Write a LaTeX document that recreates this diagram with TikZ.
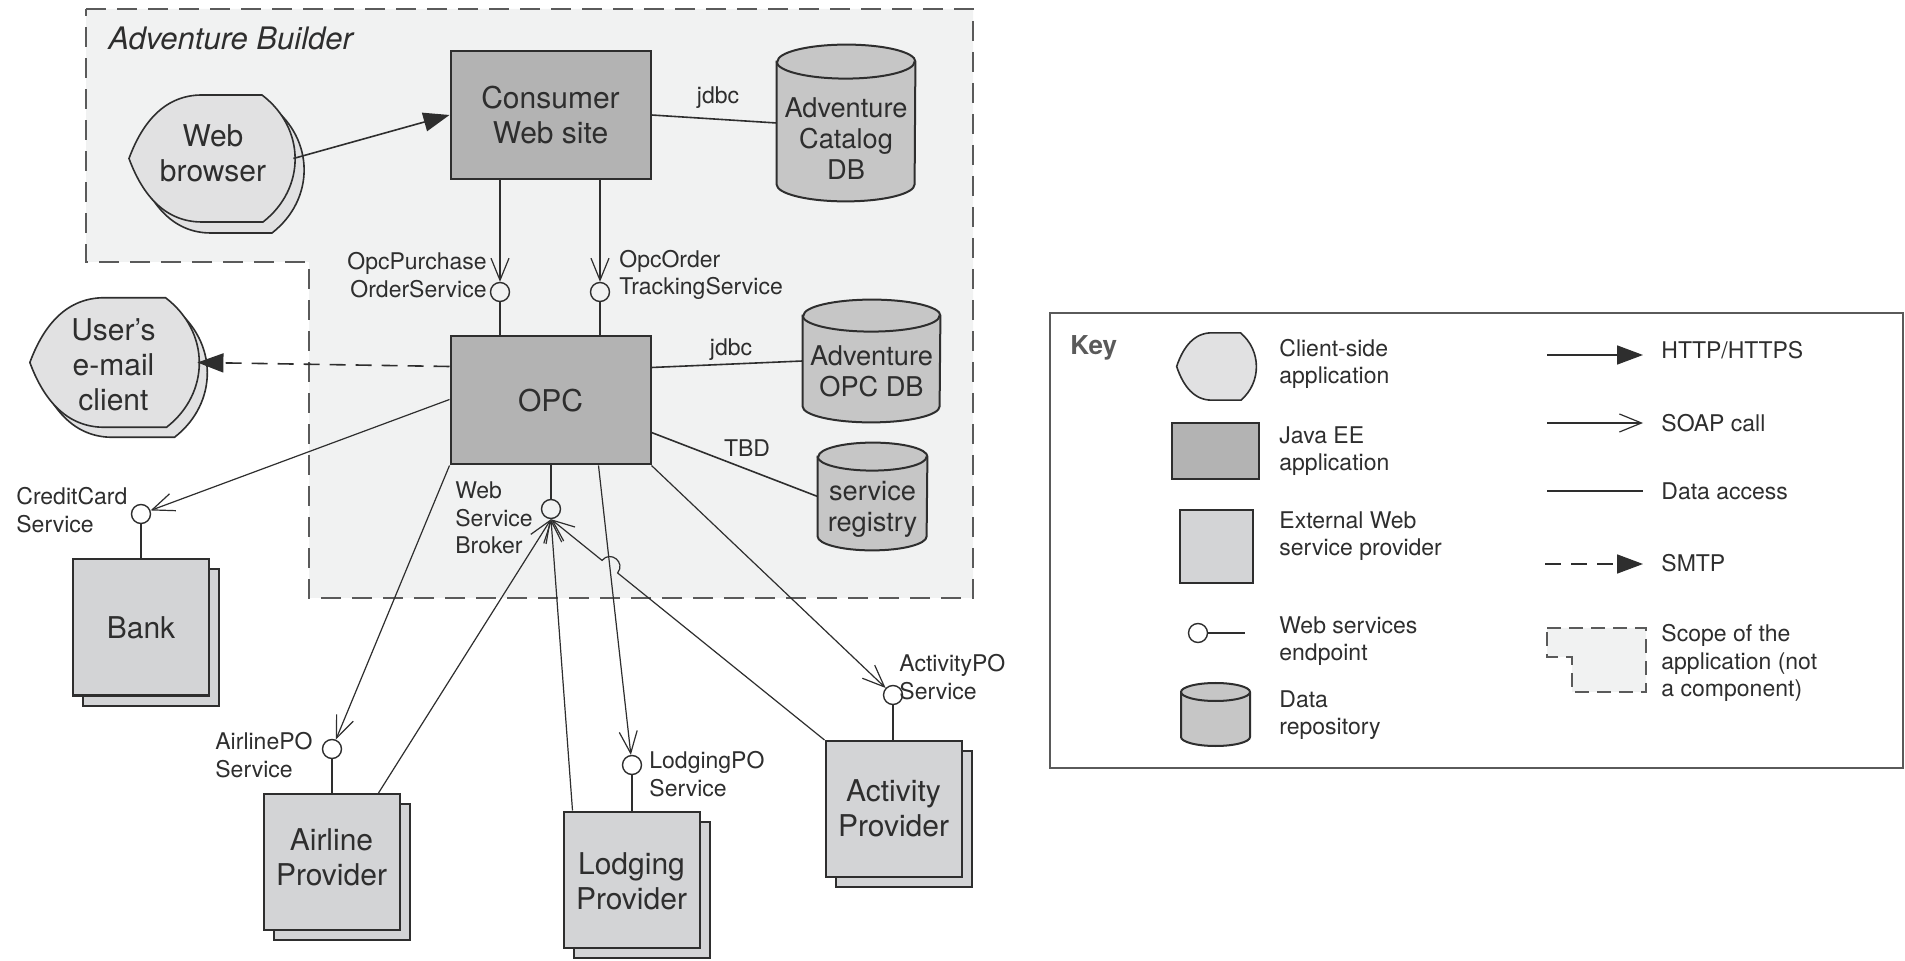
\documentclass[tikz,border=0pt]{standalone}
\usepackage{fontspec}
\setmainfont{TeX Gyre Heros}
\usetikzlibrary{arrows.meta,calc,shadows,intersections}

\definecolor{javafill}{HTML}{B3B3B3}
\definecolor{extfill}{HTML}{D3D4D6}
\definecolor{dbfill}{HTML}{C6C6C6}
\definecolor{clientfill}{HTML}{E1E1E2}
\definecolor{scopefill}{HTML}{F1F2F2}
\definecolor{ink}{HTML}{2E2E2E}
\definecolor{keygray}{HTML}{5A5A5A}

\tikzset{
  bigtext/.style={font=\fontsize{15}{17.5}\selectfont, text=ink, align=center},
  dbtext/.style={font=\fontsize{13.6}{15.5}\selectfont, text=ink, align=center},
  smalltext/.style={font=\fontsize{11.5}{13.7}\selectfont, text=ink, inner sep=0pt},
  javabox/.style={draw=ink, line width=1pt, fill=javafill, inner sep=0pt, bigtext,
    minimum width=100pt, minimum height=64pt},
  extbox/.style={draw=ink, line width=1pt, fill=extfill, inner sep=0pt,
    minimum width=68pt, minimum height=68pt,
    copy shadow={shadow xshift=5pt, shadow yshift=-5pt}},
  clientbody/.style={inner sep=0pt},
  clientshape/.style={draw=ink, line width=0.8pt, fill=clientfill},
  dbbody/.style={inner sep=0pt},
  dbshape/.style={draw=ink, line width=1pt, fill=dbfill},
  dbline/.style={draw=ink, line width=1pt},
  endpoint/.style={circle, draw=ink, line width=0.7pt, minimum size=9.5pt, inner sep=0pt},
  scopeline/.style={draw=keygray, line width=1pt, dash pattern=on 10pt off 5.5pt},
  http/.style={draw=ink, line width=0.8pt, -{Triangle[length=13pt,width=9.5pt]}},
  soap/.style={draw=ink, line width=0.6pt, -{Straight Barb[length=11pt,width=9pt]}},
  data/.style={draw=ink, line width=0.8pt},
  stem/.style={draw=ink, line width=0.6pt},
  smtp/.style={draw=ink, line width=0.8pt, dash pattern=on 8pt off 5pt,
    -{Triangle[length=13pt,width=9.5pt]}},
}

% client-side application outline, centred on (#1,#2); #3 = extra options
\newcommand\clientoutline[3]{%
  \path[clientshape, shift={(#1,#2)}, #3]
    (-9,-63.5) -- (51,-63.5) .. controls (95,-30) and (95,30) .. (52,63.5)
    -- (-9,63.5) .. controls (-45,63.5) and (-68,38) .. (-82,0)
    .. controls (-68,-38) and (-45,-63.5) .. (-9,-63.5) -- cycle;}

% data repository: #1 name, #2 #3 centre, #4 width, #5 height, #6 ellipse radius,
% #7 text drop, #8 text
\newcommand\dbcyl[8]{%
  \node[dbbody, minimum width={#4*0.5pt}, minimum height={#5*0.5pt}] (#1) at (#2,#3) {};
  \path[dbshape] ($(#1.north west)+(0,#6)$) -- ($(#1.south west)+(0,-#6)$)
    arc[start angle=180, end angle=360, x radius={#4*0.25pt}, y radius={#6*0.5pt}]
    -- ($(#1.north east)+(0,#6)$)
    arc[start angle=0, end angle=180, x radius={#4*0.25pt}, y radius={#6*0.5pt}] -- cycle;
  \draw[dbline] ($(#1.north west)+(0,#6)$)
    arc[start angle=180, end angle=360, x radius={#4*0.25pt}, y radius={#6*0.5pt}];
  \node[dbtext] (#1-t) at ($(#1.center)+(0,#7)$) {#8};}

\begin{document}
\begin{tikzpicture}[x=0.5pt,y=-0.5pt]
\useasboundingbox (0,0) rectangle (1905,961);
\fill[white] (0,0) rectangle (1905,961);

% ---------- application scope ----------
\path[scopeline, fill=scopefill] (86,9) -- (973,9) -- (973,598) -- (309,598)
  -- (309,262) -- (86,262) -- cycle;
\node[font=\fontsize{15.5}{17}\selectfont\itshape, text=ink, anchor=west, inner sep=0pt]
  (title) at (108,38) {Adventure Builder};

% ---------- client-side applications ----------
\clientoutline{220}{169.5}{}
\clientoutline{211}{158.5}{}
\node[clientbody, minimum width=82pt, minimum height=63.5pt] (wb) at (211,158.5) {};
\node[bigtext] (wb-t) at (213,153) {Web\\browser};

\clientoutline{121.5}{372.5}{scale=1.02}
\clientoutline{113.5}{362.5}{scale=1.02}
\node[clientbody, minimum width=83.5pt, minimum height=64.5pt] (mail) at (113.5,362.5) {};
\node[bigtext] (mail-t) at (113.5,365) {User’s\\e-mail\\client};

% ---------- Java EE applications ----------
\node[javabox] (cons) at (550.5,115) {Consumer\\Web site};
\node[javabox] (opc) at (550.5,400.5) {OPC};

% ---------- data repositories ----------
\dbcyl{catdb}{846}{123}{138}{156}{17}{16}{Adventure\\Catalog\\DB}
\dbcyl{opcdb}{871.5}{361}{137}{122}{16}{10}{Adventure\\OPC DB}
\dbcyl{reg}{872.5}{496.5}{109}{107}{14}{13}{service\\registry}

% ---------- external providers ----------
\node[extbox] (bank) at (141,627.5) {};
\node[bigtext] (bank-t) at (141,627.5) {Bank};
\node[extbox] (air) at (331.5,862) {};
\node[bigtext] (air-t) at (331.5,857) {Airline\\Provider};
\node[extbox] (lodg) at (631.5,879.5) {};
\node[bigtext] (lodg-t) at (631.5,881) {Lodging\\Provider};
\node[extbox] (act) at (893.5,809) {};
\node[bigtext] (act-t) at (893.5,808) {Activity\\Provider};

% ---------- web service endpoints ----------
\node[endpoint] (opcp) at (500,292) {};
\node[endpoint] (opco) at (600,292) {};
\node[endpoint] (cc) at (141,514) {};
\node[endpoint] (wsb) at (551,509) {};
\node[endpoint] (apo) at (332,749) {};
\node[endpoint] (lpo) at (632,765) {};
\node[endpoint] (actpo) at (893,695) {};

\draw[stem] (opcp.south) -- (opcp.south |- opc.north);
\draw[stem] (opco.south) -- (opco.south |- opc.north);
\draw[stem] (cc.south) -- (cc.south |- bank.north);
\draw[stem] (wsb.north |- opc.south) -- (wsb.north);
\draw[stem] (apo.south) -- (apo.south |- air.north);
\draw[stem] (lpo.south) -- (lpo.south |- lodg.north);
\draw[stem] (actpo.south) -- (actpo.south |- act.north);

% ---------- endpoint labels ----------
\node[smalltext, align=right, anchor=east] (opcpl) at (487,275) {OpcPurchase\\OrderService};
\node[smalltext, align=left, anchor=west] (opcol) at (619,275) {OpcOrder\\TrackingService};
\node[smalltext, align=left, anchor=west] (ccl) at (16,510) {CreditCard\\Service};
\node[smalltext, align=left, anchor=west] (wsbl) at (455,518) {Web\\Service\\Broker};
\node[smalltext, align=left, anchor=west] (apol) at (215,755) {AirlinePO\\Service};
\node[smalltext, align=left, anchor=west] (lpol) at (649,774) {LodgingPO\\Service};
\node[smalltext, align=left, anchor=west] (actpol) at (899,677) {ActivityPO\\Service};

% ---------- connectors ----------
\draw[http] (wb.east) -- (cons.west);
\draw[smtp] ($(opc.north west)+(0,31)$) -- (mail.east);

\draw[data] (cons.east) -- (catdb.west);
\node[smalltext] (jdbc1) at (718,98) {jdbc};
\draw[data] ($(opc.north east)+(0,32)$) -- (opcdb.west);
\node[smalltext] (jdbc2) at (731,350) {jdbc};
\draw[data] ($(opc.north east)+(0,97)$) -- (reg.west);
\node[smalltext] (tbd) at (747,448) {TBD};

\draw[soap] (cons.south -| opcp) -- (opcp);
\draw[soap] (cons.south -| opco) -- (opco);
\draw[soap] ($(opc.north west)+(0,64)$) -- (cc);
\draw[soap] (opc.south west) -- (apo);
\coordinate (lodgstart) at ($(opc.south west)+(149,0)$);
\draw[soap] (lodgstart) -- (lpo);
\draw[soap] (opc.south east) -- (actpo);

\draw[soap] ($(air.north east)+(-22,0)$) -- (wsb.south);
\draw[soap] ($(lodg.north west)+(10,0)$) -- (wsb.south);

% activity provider to broker, hopping over the lodging call
\path[name path=lodgline] (lodgstart) -- (lpo);
\path[name path=actline] (act.north west) -- (wsb.south);
\path[name intersections={of=lodgline and actline, by=hopc}];
\coordinate (hopa) at ($(hopc)!5pt!(act.north west)$);
\coordinate (hopb) at ($(hopc)!5pt!(wsb.south)$);
\draw[soap] (act.north west) -- (hopa)
  .. controls ($(hopa)!6.7pt!-90:(hopb)$) and ($(hopb)!6.7pt!90:(hopa)$) .. (hopb)
  -- (wsb.south);

% ---------- key ----------
\node[draw=keygray, line width=1pt, fill=white, minimum width=426.5pt, minimum height=227.5pt,
  inner sep=0pt] (keybox) at (1476.5,540.5) {};
\node[font=\fontsize{13}{15}\selectfont\bfseries, text=keygray, anchor=west, inner sep=0pt]
  (keyt) at (1070,348) {Key};

\clientoutline{1216}{366.5}{xscale=0.48, yscale=0.53}
\node[inner sep=0pt, minimum width=39pt, minimum height=33.5pt] (kclient) at (1216,366.5) {};
\node[smalltext, align=left, anchor=west] (kclientt) at (1279,364) {Client-side\\application};

\node[draw=ink, line width=1pt, fill=javafill, minimum width=43.5pt, minimum height=28pt,
  inner sep=0pt] (kjava) at (1215.5,451) {};
\node[smalltext, align=left, anchor=west] (kjavat) at (1279,451) {Java EE\\application};

\node[draw=ink, line width=1pt, fill=extfill, minimum width=36.5pt, minimum height=36.5pt,
  inner sep=0pt] (kext) at (1216.5,546.5) {};
\node[smalltext, align=left, anchor=west] (kextt) at (1279,536) {External Web\\service provider};

\node[endpoint] (kep) at (1198,633) {};
\coordinate (kepe) at (1245,633);
\draw[stem] (kep.east) -- (kepe);
\node[smalltext, align=left, anchor=west] (kept) at (1279,641) {Web services\\endpoint};

\path[dbshape] (1181,723) -- (1181,737)
  arc[start angle=180, end angle=360, x radius=17.25pt, y radius=4.5pt]
  -- (1250,692) arc[start angle=0, end angle=180, x radius=17.25pt, y radius=4.5pt] -- cycle;
\draw[dbline] (1181,692) arc[start angle=180, end angle=360, x radius=17.25pt, y radius=4.5pt];
\node[inner sep=0pt, minimum width=34.5pt, minimum height=31.5pt] (kdb) at (1215.5,714.5) {};
\node[smalltext, align=left, anchor=west] (kdbt) at (1279,715) {Data\\repository};

\coordinate (khs) at (1547,355);  \coordinate (khe) at (1643,355);
\draw[http] (khs) -- (khe);
\node[smalltext, anchor=west] (khttp) at (1661,350) {HTTP/HTTPS};

\coordinate (kss) at (1547,423);  \coordinate (kse) at (1643,423);
\draw[soap] (kss) -- (kse);
\node[smalltext, anchor=west] (ksoap) at (1661,423) {SOAP call};

\coordinate (kds) at (1547,491);  \coordinate (kde) at (1643,491);
\draw[data] (kds) -- (kde);
\node[smalltext, anchor=west] (kdata) at (1661,491) {Data access};

\coordinate (kms) at (1545,564);  \coordinate (kme) at (1643,564);
\draw[smtp] (kms) -- (kme);
\node[smalltext, anchor=west] (ksmtp) at (1661,563) {SMTP};

\path[scopeline, fill=scopefill, dash pattern=on 7pt off 4pt]
  (1547,628) -- (1646,628) -- (1646,692) -- (1572,692) -- (1572,657) -- (1547,657) -- cycle;
\node[smalltext, align=left, anchor=west] (kscope) at (1661,663)
  {Scope of the\\application (not\\a component)};
\end{tikzpicture}
\end{document}
